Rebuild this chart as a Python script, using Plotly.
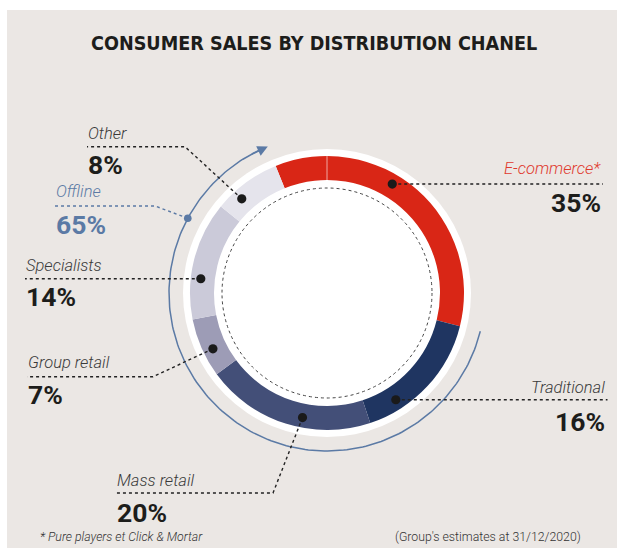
import math
import numpy as np
import plotly.graph_objects as go

# ---------------- data ----------------
channels = ["E-commerce*", "Traditional", "Mass retail", "Group retail", "Specialists", "Other"]
shares = [35, 16, 20, 7, 14, 8]
share_labels = ["35%", "16%", "20%", "7%", "14%", "8%"]
offline_channels = ["Traditional", "Mass retail", "Group retail", "Specialists", "Other"]
offline_label = "Offline"
offline_share_label = "65%"
title_text = "CONSUMER SALES BY DISTRIBUTION CHANEL"
footnote_left = "* Pure players et Click & Mortar"
footnote_right = "(Group's estimates at 31/12/2020)"

# ---------------- style / layout ----------------
W, H = 617, 548
CX, CY = 327, 293
R_OUT, R_IN, R_WHITE, R_DOTTED, R_ARC, R_DOT = 137, 113, 144, 105, 158, 127
ROTATION = -22
BG = "#ebe7e4"
slice_colors = ["#d92616", "#1f3561", "#434f78", "#9d9cb6", "#cbcad9", "#e5e4ec"]
BLUE = "#5b7aa5"
DARK = "#1d1d1b"
LABEL_COLORS = {"E-commerce*": "#e0392d"}

TITLE_FONT = dict(family="DejaVu Sans Condensed, DejaVu Sans", size=19.6, color=DARK, weight="bold")
LABEL_FONT = dict(family="Roboto, sans-serif", size=16.5, style="italic", weight=300, color="#3a3a3a")
NUM_FONT = dict(family="Roboto, sans-serif", size=26.5, weight="bold", color=DARK)
FOOT_FONT = dict(family="Roboto, sans-serif", size=12.3, weight=300, color="#333333")

# leader placement: fraction along slice, optional elbow, end point, label anchor, label y, number y
leaders = {
    "E-commerce*": dict(frac=0.42, elbow=None, end_x=603, side="right", lx=603, ly=168, ny=202),
    "Traditional": dict(frac=0.75, elbow=None, end_x=607.5, side="right", lx=607, ly=387, ny=421),
    "Mass retail": dict(frac=0.41, elbow=(273, 493), end_x=116, side="left", lx=115, ly=480, ny=512),
    "Group retail": dict(frac=0.41, elbow=(153, 376.7), end_x=27, side="left", lx=26, ly=362, ny=394),
    "Specialists": dict(frac=0.35, elbow=None, end_x=25, side="left", lx=24, ly=265, ny=296.5),
    "Other": dict(frac=0.30, elbow=(185, 146.7), end_x=87, side="left", lx=86, ly=133, ny=164),
}
offline_leader = dict(frac=0.83, elbow=(155, 206), end_x=55, lx=54, ly=191.5, ny=224)


def pos(angle_deg, r):
    a = math.radians(angle_deg)
    return CX + r * math.sin(a), CY - r * math.cos(a)


total = sum(shares)
bounds = {}
cur = ROTATION
for ch, v in zip(channels, shares):
    span = v / total * 360.0
    bounds[ch] = (cur, cur + span)
    cur += span

fig = go.Figure()

# Donut through the library's own pie
fig.add_trace(go.Pie(
    labels=channels, values=shares, sort=False, direction="clockwise",
    rotation=ROTATION, hole=R_IN / R_OUT,
    marker=dict(colors=slice_colors, line=dict(width=0)),
    textinfo="none", hoverinfo="label+percent", showlegend=False,
    domain=dict(x=[(CX - R_OUT) / W, (CX + R_OUT) / W],
                y=[(H - CY - R_OUT) / H, (H - CY + R_OUT) / H]),
))

# Offline arc spanning offline slices
arc_start = bounds[offline_channels[0]][0]
arc_end = bounds[offline_channels[-1]][1]
angs = np.linspace(arc_start, arc_end - 2, 200)
ax_pts = [pos(a, R_ARC) for a in angs]
fig.add_trace(go.Scatter(x=[p[0] for p in ax_pts], y=[p[1] for p in ax_pts], mode="lines",
                         line=dict(color=BLUE, width=1.5), hoverinfo="skip", showlegend=False))

shapes = []
# background panel
shapes.append(dict(type="rect", xref="x", yref="y", x0=7, y0=10, x1=W, y1=H,
                   fillcolor=BG, line=dict(width=0), layer="below"))
# white disk
shapes.append(dict(type="circle", xref="x", yref="y", x0=CX - R_WHITE, x1=CX + R_WHITE,
                   y0=CY - R_WHITE, y1=CY + R_WHITE, fillcolor="white", line=dict(width=0), layer="below"))
# dotted inner circle
shapes.append(dict(type="circle", xref="x", yref="y", x0=CX - R_DOTTED, x1=CX + R_DOTTED,
                   y0=CY - R_DOTTED, y1=CY + R_DOTTED, line=dict(color="#444444", width=1, dash="dot"),
                   layer="below"))
# thin white tick at 12 o'clock
p1, p2 = pos(0, R_IN), pos(0, R_OUT)
shapes.append(dict(type="line", xref="x", yref="y", x0=p1[0], y0=p1[1], x1=p2[0], y1=p2[1],
                   line=dict(color="rgba(255,255,255,0.6)", width=1), layer="above"))

annotations = []
DOT_R = 4.6
for ch, lab in zip(channels, share_labels):
    spec = leaders[ch]
    a0, a1 = bounds[ch]
    ang = a0 + spec["frac"] * (a1 - a0)
    dx, dy = pos(ang, R_DOT)
    if spec["elbow"] is None:
        path = f"M {dx},{dy} L {spec['end_x']},{dy}"
    else:
        ex, ey = spec["elbow"]
        path = f"M {dx},{dy} L {ex},{ey} L {spec['end_x']},{ey}"
    shapes.append(dict(type="path", xref="x", yref="y", path=path,
                       line=dict(color="#222222", width=1.4, dash="dot"), layer="above"))
    shapes.append(dict(type="circle", xref="x", yref="y", x0=dx - DOT_R, x1=dx + DOT_R,
                       y0=dy - DOT_R, y1=dy + DOT_R, fillcolor="#1a1a1a", line=dict(width=0),
                       layer="above"))
    lf = dict(LABEL_FONT)
    lf["color"] = LABEL_COLORS.get(ch, LABEL_FONT["color"])
    annotations.append(dict(x=spec["lx"], y=spec["ly"], xref="x", yref="y", text=ch,
                            xanchor=spec["side"], yanchor="middle", showarrow=False, font=lf))
    annotations.append(dict(x=spec["lx"], y=spec["ny"], xref="x", yref="y", text=lab,
                            xanchor=spec["side"], yanchor="middle", showarrow=False, font=NUM_FONT))

# Offline leader
oang = arc_start + offline_leader["frac"] * (arc_end - arc_start)
ox, oy = pos(oang, R_ARC)
ex, ey = offline_leader["elbow"]
shapes.append(dict(type="path", xref="x", yref="y",
                   path=f"M {ox},{oy} L {ex},{ey} L {offline_leader['end_x']},{ey}",
                   line=dict(color=BLUE, width=1.4, dash="dot"), layer="above"))
shapes.append(dict(type="circle", xref="x", yref="y", x0=ox - 3.8, x1=ox + 3.8, y0=oy - 3.8, y1=oy + 3.8,
                   fillcolor=BLUE, line=dict(width=0), layer="above"))
lf = dict(LABEL_FONT); lf["color"] = BLUE
nf = dict(NUM_FONT); nf["color"] = BLUE
annotations.append(dict(x=offline_leader["lx"], y=offline_leader["ly"], xref="x", yref="y", text=offline_label,
                        xanchor="left", yanchor="middle", showarrow=False, font=lf))
annotations.append(dict(x=offline_leader["lx"], y=offline_leader["ny"], xref="x", yref="y",
                        text=offline_share_label, xanchor="left", yanchor="middle", showarrow=False, font=nf))

# arrow head at the end of the offline arc
tip = pos(arc_end, R_ARC)
tail = pos(arc_end - 7, R_ARC)
annotations.append(dict(x=tip[0], y=tip[1], xref="x", yref="y", ax=tail[0] - tip[0], ay=tail[1] - tip[1],
                        axref="pixel", ayref="pixel", showarrow=True, arrowhead=2, arrowsize=1.3,
                        arrowwidth=1.6, arrowcolor=BLUE, text=""))

# title & footnotes
annotations.append(dict(x=314, y=43.5, xref="x", yref="y", text=title_text, showarrow=False,
                        xanchor="center", yanchor="middle", font=TITLE_FONT))
ff = dict(FOOT_FONT); ff["style"] = "italic"
annotations.append(dict(x=38, y=537, xref="x", yref="y", text=footnote_left, showarrow=False,
                        xanchor="left", yanchor="middle", font=ff))
annotations.append(dict(x=583, y=537, xref="x", yref="y", text=footnote_right, showarrow=False,
                        xanchor="right", yanchor="middle", font=FOOT_FONT))

fig.update_layout(
    width=W, height=H, margin=dict(l=0, r=0, t=0, b=0),
    paper_bgcolor="white", plot_bgcolor="rgba(0,0,0,0)",
    xaxis=dict(range=[0, W], visible=False, fixedrange=True),
    yaxis=dict(range=[H, 0], visible=False, fixedrange=True),
    shapes=shapes, annotations=annotations, showlegend=False,
)

fig.write_html(
    "out.html",
    config={"displayModeBar": False},
    post_script="document.body.style.margin='0px';document.documentElement.style.overflow='hidden';",
)
